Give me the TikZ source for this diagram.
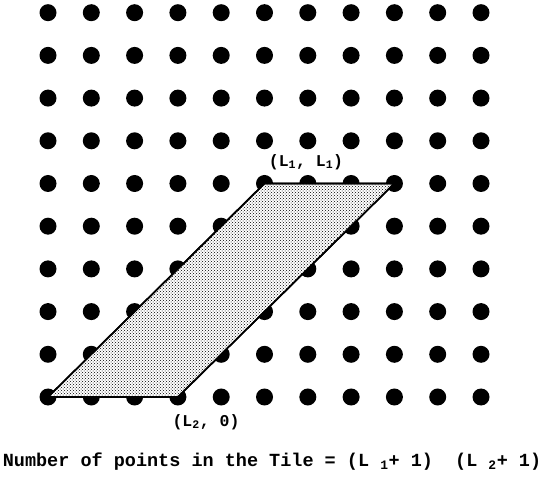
\documentclass[tikz,border=0pt]{standalone}
\usepackage{fontspec}
\setmonofont{Liberation Mono}
\usetikzlibrary{patterns}
\begin{document}
\begin{tikzpicture}[x=1pt,y=1pt,
  dot/.style={circle,fill=black,inner sep=0pt,minimum size=17pt},
  lbl/.style={font=\ttfamily\bfseries\fontsize{16.5}{18}\selectfont,inner sep=0pt},
  tile/.style={fill=white,draw=black,line width=1.6pt,line join=miter},
  stipple/.style={pattern=crosshatch dots,pattern color=black}]
\useasboundingbox (0,0) rectangle (545,476);
\foreach \i in {0,...,10}{
  \foreach \j in {0,...,9}{
    \node[dot] (d-\i-\j) at ({48+43.3*\i},{79+42.7*\j}) {};
  }
}
\path[tile] (d-0-0.center) -- (d-3-0.center) -- (d-8-5.center) -- (d-5-5.center) -- cycle;
\path[stipple] (d-0-0.center) -- (d-3-0.center) -- (d-8-5.center) -- (d-5-5.center) -- cycle;
\draw[line width=1.6pt] (d-0-0.center) -- (d-3-0.center) -- (d-8-5.center) -- (d-5-5.center) -- cycle;
\node[lbl] (top) at (306,314) {(L\textsubscript{1}, L\textsubscript{1})};
\node[lbl] (bot) at (206,54) {(L\textsubscript{2}, 0)};
\node[lbl,font=\ttfamily\bfseries\fontsize{18.5}{20}\selectfont] (cap) at (272,14)
  {Number of points in the Tile = (L \textsubscript{1}+ 1)~ (L \textsubscript{2}+ 1)};
\end{tikzpicture}
\end{document}
